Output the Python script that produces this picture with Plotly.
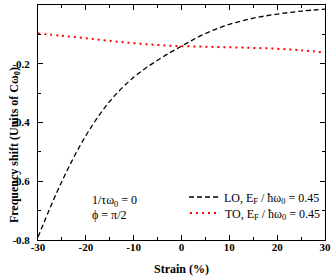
import plotly.graph_objects as go

strain = [-30, -25, -20, -15, -10, -5, 0, 5, 10, 15, 20, 25, 30]
lo_shift = [-0.790, -0.600, -0.445, -0.328, -0.246, -0.188, -0.140, -0.097, -0.066, -0.045, -0.031, -0.021, -0.014]
to_shift = [-0.097, -0.105, -0.113, -0.122, -0.130, -0.136, -0.140, -0.142, -0.144, -0.146, -0.149, -0.154, -0.162]

x_ticks = [-30, -20, -10, 0, 10, 20, 30]
x_labels = ["-30", "-20", "-10", "0", "10", "20", "30"]
y_ticks = [0, -0.2, -0.4, -0.6, -0.8]
y_labels = ["0", "-0.2", "-0.4", "-0.6", "-0.8"]

FONT = "Liberation Serif"

fig = go.Figure()
fig.add_trace(go.Scatter(
    x=strain, y=lo_shift, mode="lines", line_shape="spline",
    line=dict(color="black", width=1.3, dash="5px,3px"),
    name="LO, E<sub>F</sub> / ħω<sub>0</sub> = 0.45", legend="legend",
))
fig.add_trace(go.Scatter(
    x=strain, y=to_shift, mode="lines", line_shape="spline",
    line=dict(color="red", width=2, dash="2px,4px"),
    name="TO, E<sub>F</sub> / ħω<sub>0</sub> = 0.45", legend="legend2",
))

axis_common = dict(
    showline=True, linecolor="black", linewidth=1, mirror="ticks",
    ticks="inside", ticklen=5, tickwidth=1, tickcolor="black",
    showgrid=False, zeroline=False,
    tickfont=dict(family=FONT, size=11, color="#000000"),
)

leg_common = dict(x=1, xanchor="right", yanchor="middle", bgcolor="rgba(0,0,0,0)",
                  font=dict(family=FONT, size=12, color="black"), itemwidth=30)

fig.update_layout(
    width=332, height=278,
    margin=dict(l=38, r=7, t=5, b=38, autoexpand=False),
    paper_bgcolor="white", plot_bgcolor="white",
    font=dict(family=FONT, color="black"),
    xaxis=dict(range=[-30, 30], tickvals=x_ticks, ticktext=[f"<b>{t}</b>" for t in x_labels],
               minor=dict(dtick=5, ticks="inside", ticklen=3, tickcolor="black"),
               ticklabelstandoff=-3,
               **axis_common),
    yaxis=dict(range=[-0.8, 0], tickvals=y_ticks, ticktext=[f"<b>{t}</b>" for t in y_labels],
               minor=dict(dtick=0.1, ticks="inside", ticklen=3, tickcolor="black"),
               ticklabelstandoff=5,
               **axis_common),
    showlegend=True,
    legend=dict(y=0.183, **leg_common),
    legend2=dict(y=0.115, **leg_common),
)

fig.add_annotation(text="<b>Strain (%)</b>", xref="paper", yref="paper", x=0.5, y=-0.085,
                   xanchor="center", yanchor="top", showarrow=False,
                   font=dict(family=FONT, size=12, color="black"))
fig.add_annotation(text="<b>Frequency shift (Units of Cω<sub>0</sub>)</b>", xref="paper", yref="paper",
                   x=-0.08, y=0.404, xanchor="center", yanchor="middle", textangle=-90, showarrow=False,
                   font=dict(family=FONT, size=12, color="black"))
fig.add_annotation(text="1/τω<sub>0</sub> = 0", xref="paper", yref="paper", x=0.18, y=0.165,
                   xanchor="left", yanchor="middle", showarrow=False,
                   font=dict(family=FONT, size=12, color="black"))
fig.add_annotation(text="ϕ = π/2", xref="paper", yref="paper", x=0.18, y=0.108,
                   xanchor="left", yanchor="middle", showarrow=False,
                   font=dict(family=FONT, size=12, color="black"))

fig.write_html("out.html", config={"displayModeBar": False},
               post_script="document.body.style.margin='0';document.body.style.overflow='hidden';")
